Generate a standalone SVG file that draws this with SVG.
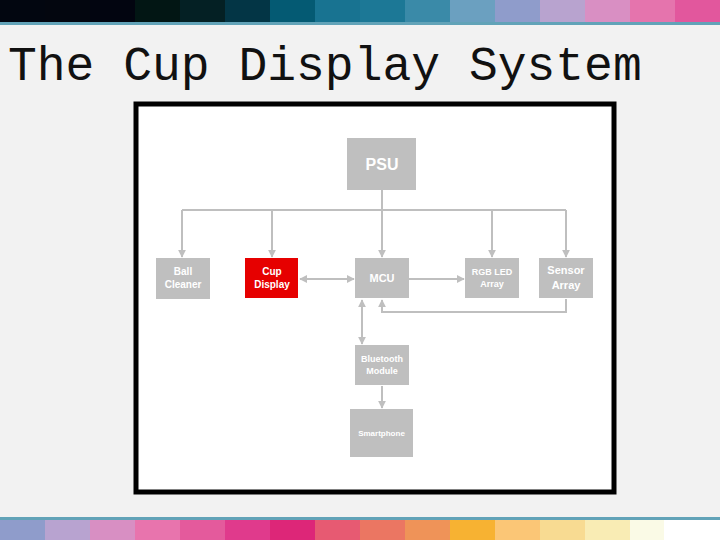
<svg xmlns="http://www.w3.org/2000/svg" width="720" height="540" viewBox="0 0 720 540">
<style>
.box{fill:#bfbfbf}
.t{font-family:"Liberation Sans",Arial,sans-serif;font-weight:bold;fill:#fff;text-anchor:middle}
.c{stroke:#bfbfbf;stroke-width:2;fill:none}
</style>
<defs>
<marker id="a" viewBox="0 0 10 10" refX="9" refY="5" markerWidth="4" markerHeight="4" orient="auto-start-reverse"><path d="M0,0L10,5L0,10z" fill="#bfbfbf"/></marker>
</defs>
<rect width="720" height="540" fill="#f2f2f2"/>
<g id="topbar">
<rect x="0" y="0" width="45" height="22" fill="#020610"/><rect x="45" y="0" width="45" height="22" fill="#03060f"/><rect x="90" y="0" width="45" height="22" fill="#020510"/><rect x="135" y="0" width="45" height="22" fill="#021614"/><rect x="180" y="0" width="45" height="22" fill="#042024"/><rect x="225" y="0" width="45" height="22" fill="#033545"/><rect x="270" y="0" width="45" height="22" fill="#045a73"/><rect x="315" y="0" width="45" height="22" fill="#187391"/><rect x="360" y="0" width="45" height="22" fill="#1c7896"/><rect x="405" y="0" width="45" height="22" fill="#3a8aa8"/><rect x="450" y="0" width="45" height="22" fill="#6ba0c0"/><rect x="495" y="0" width="45" height="22" fill="#8f9ccb"/><rect x="540" y="0" width="45" height="22" fill="#b8a3cf"/><rect x="585" y="0" width="45" height="22" fill="#d98fc3"/><rect x="630" y="0" width="45" height="22" fill="#e574ad"/><rect x="675" y="0" width="45" height="22" fill="#e2579d"/>
<rect x="0" y="22" width="720" height="3" fill="#62a3b8"/>
</g>
<g id="bottombar">
<rect x="0" y="517" width="720" height="3" fill="#62a3b8"/>
<rect x="0" y="520" width="45" height="20" fill="#8f9ccb"/><rect x="45" y="520" width="45" height="20" fill="#b8a3d0"/><rect x="90" y="520" width="45" height="20" fill="#d88fc3"/><rect x="135" y="520" width="45" height="20" fill="#e874ad"/><rect x="180" y="520" width="45" height="20" fill="#e45a9c"/><rect x="225" y="520" width="45" height="20" fill="#e03a8c"/><rect x="270" y="520" width="45" height="20" fill="#dd2678"/><rect x="315" y="520" width="45" height="20" fill="#e75a72"/><rect x="360" y="520" width="45" height="20" fill="#eb7662"/><rect x="405" y="520" width="45" height="20" fill="#ef9358"/><rect x="450" y="520" width="45" height="20" fill="#f7b232"/><rect x="495" y="520" width="45" height="20" fill="#fbc676"/><rect x="540" y="520" width="45" height="20" fill="#f8db92"/><rect x="585" y="520" width="45" height="20" fill="#f9ecb4"/><rect x="630" y="520" width="34" height="20" fill="#fafae6"/><rect x="664" y="520" width="56" height="20" fill="#ffffff"/>
</g>
<text x="8" y="80" font-family="'Liberation Mono','Courier New',monospace" font-size="48" fill="#111">The Cup Display System</text>
<rect x="136" y="104" width="478" height="388" fill="#fff" stroke="#000" stroke-width="5"/>
<g id="connectors">
<path class="c" d="M382,190V210"/>
<path class="c" d="M182,210H566"/>
<path class="c" d="M182,210V257" marker-end="url(#a)"/>
<path class="c" d="M272,210V257" marker-end="url(#a)"/>
<path class="c" d="M382,210V257" marker-end="url(#a)"/>
<path class="c" d="M492,210V257" marker-end="url(#a)"/>
<path class="c" d="M566,210V257" marker-end="url(#a)"/>
<path class="c" d="M300,279H354" marker-start="url(#a)" marker-end="url(#a)"/>
<path class="c" d="M409,279H464" marker-end="url(#a)"/>
<path class="c" d="M566,299V312H382V300" marker-end="url(#a)"/>
<path class="c" d="M362,300V344" marker-start="url(#a)" marker-end="url(#a)"/>
<path class="c" d="M382,386V408" marker-end="url(#a)"/>
</g>
<g id="psu"><rect class="box" x="347" y="138" width="69" height="52"/><text class="t" x="382" y="170" style="font-size:16px">PSU</text></g>
<g id="ball"><rect class="box" x="156" y="258" width="54" height="41"/><text class="t" x="183" y="275" style="font-size:10px">Ball</text><text class="t" x="183" y="288" style="font-size:10px">Cleaner</text></g>
<g id="cup"><rect x="245" y="258" width="53" height="40" fill="#e60000"/><text class="t" x="272" y="275" style="font-size:10px">Cup</text><text class="t" x="272" y="288" style="font-size:10px">Display</text></g>
<g id="mcu"><rect class="box" x="355" y="258" width="54" height="40"/><text class="t" x="382" y="282" style="font-size:11px">MCU</text></g>
<g id="rgb"><rect class="box" x="465" y="258" width="54" height="40"/><text class="t" x="492" y="275" style="font-size:9px">RGB LED</text><text class="t" x="492" y="287" style="font-size:9px">Array</text></g>
<g id="sensor"><rect class="box" x="539" y="258" width="54" height="40"/><text class="t" x="566" y="274" style="font-size:11px">Sensor</text><text class="t" x="566" y="289" style="font-size:11px">Array</text></g>
<g id="bt"><rect class="box" x="355" y="345" width="54" height="40"/><text class="t" x="382" y="362" style="font-size:9px">Bluetooth</text><text class="t" x="382" y="374" style="font-size:9px">Module</text></g>
<g id="phone"><rect class="box" x="350" y="409" width="63" height="48"/><text class="t" x="381.5" y="436" style="font-size:8px">Smartphone</text></g>
</svg>
